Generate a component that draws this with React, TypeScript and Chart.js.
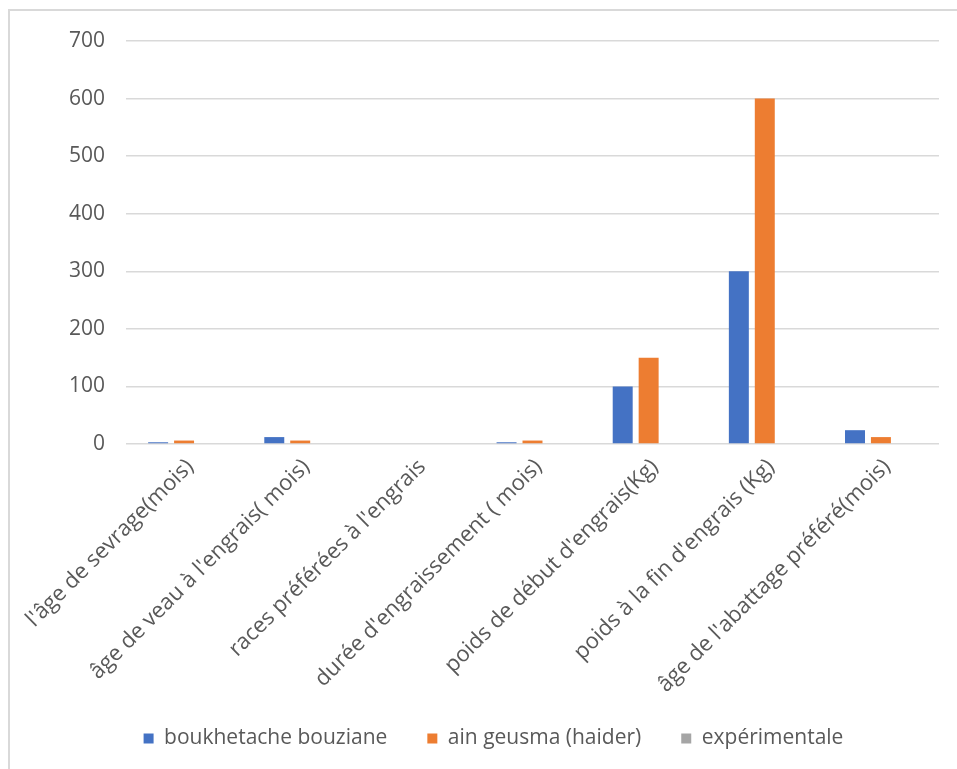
import React, { useEffect, useRef } from "react";
import { Chart, registerables } from "chart.js";

Chart.register(...registerables);

const categories = [
  "l'âge de sevrage(mois)",
  "âge de veau à l'engrais( mois)",
  "races préférées à l'engrais",
  "durée d'engraissement ( mois)",
  "poids de début d'engrais(Kg)",
  "poids à la fin d'engrais (Kg)",
  "âge de l'abattage préféré(mois)",
];

const seriesNames = ["boukhetache bouziane", "ain geusma (haider)", "expérimentale"];
const boukhetache = [3, 12, 0, 3, 100, 300, 24];
const ainGeusma = [6, 6, 0, 6, 150, 600, 12];
const experimentale = [0, 0, 0, 0, 0, 0, 0];
const seriesColors = ["#4472C4", "#ED7D31", "#A5A5A5"];

const yMin = 0;
const yMax = 700;
const yStep = 100;

const FONT = "'Open Sans', 'DejaVu Sans', sans-serif";
const TEXT = "#595959";
const GRID = "#d9d9d9";

// Long rotated category labels may reach into the legend band; widen the
// x scale's label clip box so they are not cut off.
const extendLabelArea = {
  id: "extendLabelArea",
  afterLayout(chart: any) {
    const x = chart.scales.x;
    if (x) x.bottom += 30;
  },
};

export default function App() {
  const canvasRef = useRef<HTMLCanvasElement | null>(null);

  useEffect(() => {
    const canvas = canvasRef.current;
    if (!canvas) return;
    const values = [boukhetache, ainGeusma, experimentale];
    const chart = new Chart(canvas, {
      type: "bar",
      data: {
        labels: categories,
        datasets: values.map((d, i) => ({
          label: seriesNames[i],
          data: d,
          backgroundColor: seriesColors[i],
          borderWidth: 0,
          barPercentage: 0.77,
          categoryPercentage: 0.67,
        })),
      },
      options: {
        animation: false,
        responsive: true,
        maintainAspectRatio: false,
        layout: { padding: { left: 48, right: 18, top: 41, bottom: 10 } },
        plugins: {
          tooltip: { enabled: false },
          legend: {
            position: "bottom",
            labels: {
              boxWidth: 10,
              boxHeight: 10,
              color: TEXT,
              padding: 40,
              font: { family: FONT, size: 21 },
            },
          },
        },
        scales: {
          x: {
            grid: { display: false, drawTicks: false },
            border: { display: false },
            ticks: {
              color: TEXT,
              minRotation: 45,
              maxRotation: 45,
              padding: 10,
              labelOffset: 6,
              autoSkip: false,
              font: { family: FONT, size: 22 },
            },
            afterFit: (scale: any) => {
              scale.height = 244;
            },
          },
          y: {
            min: yMin,
            max: yMax,
            grid: { color: GRID, lineWidth: 1.5, drawTicks: false },
            border: { display: false },
            ticks: {
              stepSize: yStep,
              color: TEXT,
              padding: 21,
              font: { family: FONT, size: 21 },
            },
            afterFit: (scale: any) => {
              scale.width = 78;
            },
          },
        },
      },
      plugins: [extendLabelArea],
    });
    return () => chart.destroy();
  }, []);

  return (
    <div style={{ position: "absolute", left: 0, top: 0, width: 957, height: 769, overflow: "hidden", background: "#fff" }}>
      <div
        style={{
          position: "absolute",
          left: 8,
          top: 9,
          width: 960,
          height: 770,
          border: "2px solid #d9d9d9",
          boxSizing: "border-box",
        }}
      />
      <div style={{ position: "absolute", left: 0, top: 0, width: 957, height: 769 }}>
        <canvas ref={canvasRef} />
      </div>
    </div>
  );
}
